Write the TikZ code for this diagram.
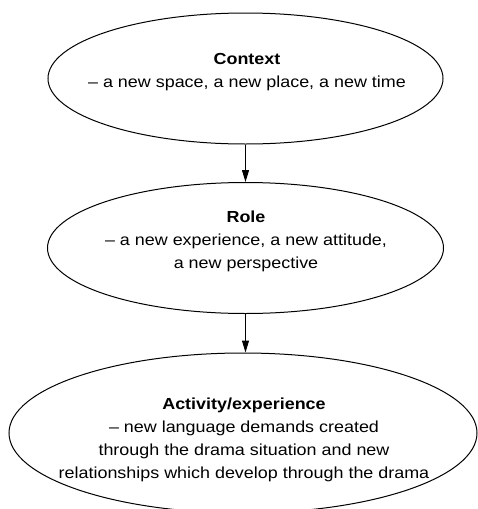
\documentclass[tikz,border=0pt]{standalone}
\usepackage{fontspec}
\setmainfont[FakeStretch=1.12]{Liberation Sans}
\usetikzlibrary{arrows.meta,shapes.geometric}
\tikzset{
  ell/.style={draw=black, line width=1pt, ellipse, inner sep=0pt},
  txt/.style={align=center, inner sep=0pt, font=\fontsize{16pt}{23pt}\selectfont, text=black},
  conn/.style={line width=1pt, -{Triangle[length=12pt,width=7pt]}},
}
\begin{document}
\begin{tikzpicture}[x=1pt,y=-1pt]
\useasboundingbox (0,0) rectangle (477,509);
\node[ell, minimum width=395pt, minimum height=131pt] (e1) at (245.5,78.5) {};
\node[ell, minimum width=396pt, minimum height=131pt] (e2) at (245.5,248) {};
\node[ell, minimum width=468pt, minimum height=160pt] (e3) at (243,433) {};
\node[txt] (t1) at (247,72) {\textbf{Context}\\– a new space, a new place, a new time};
\node[txt] (t2) at (246,241) {\textbf{Role}\\– a new experience, a new attitude,\\a new perspective};
\node[txt] (t3) at (244,440) {\textbf{Activity/experience}\\– new language demands created\\through the drama situation and new\\relationships which develop through the drama};
\draw[conn] (e1.south) -- (e2.north);
\draw[conn] (e2.south) -- (e2.south |- e3.north);
\end{tikzpicture}
\end{document}
